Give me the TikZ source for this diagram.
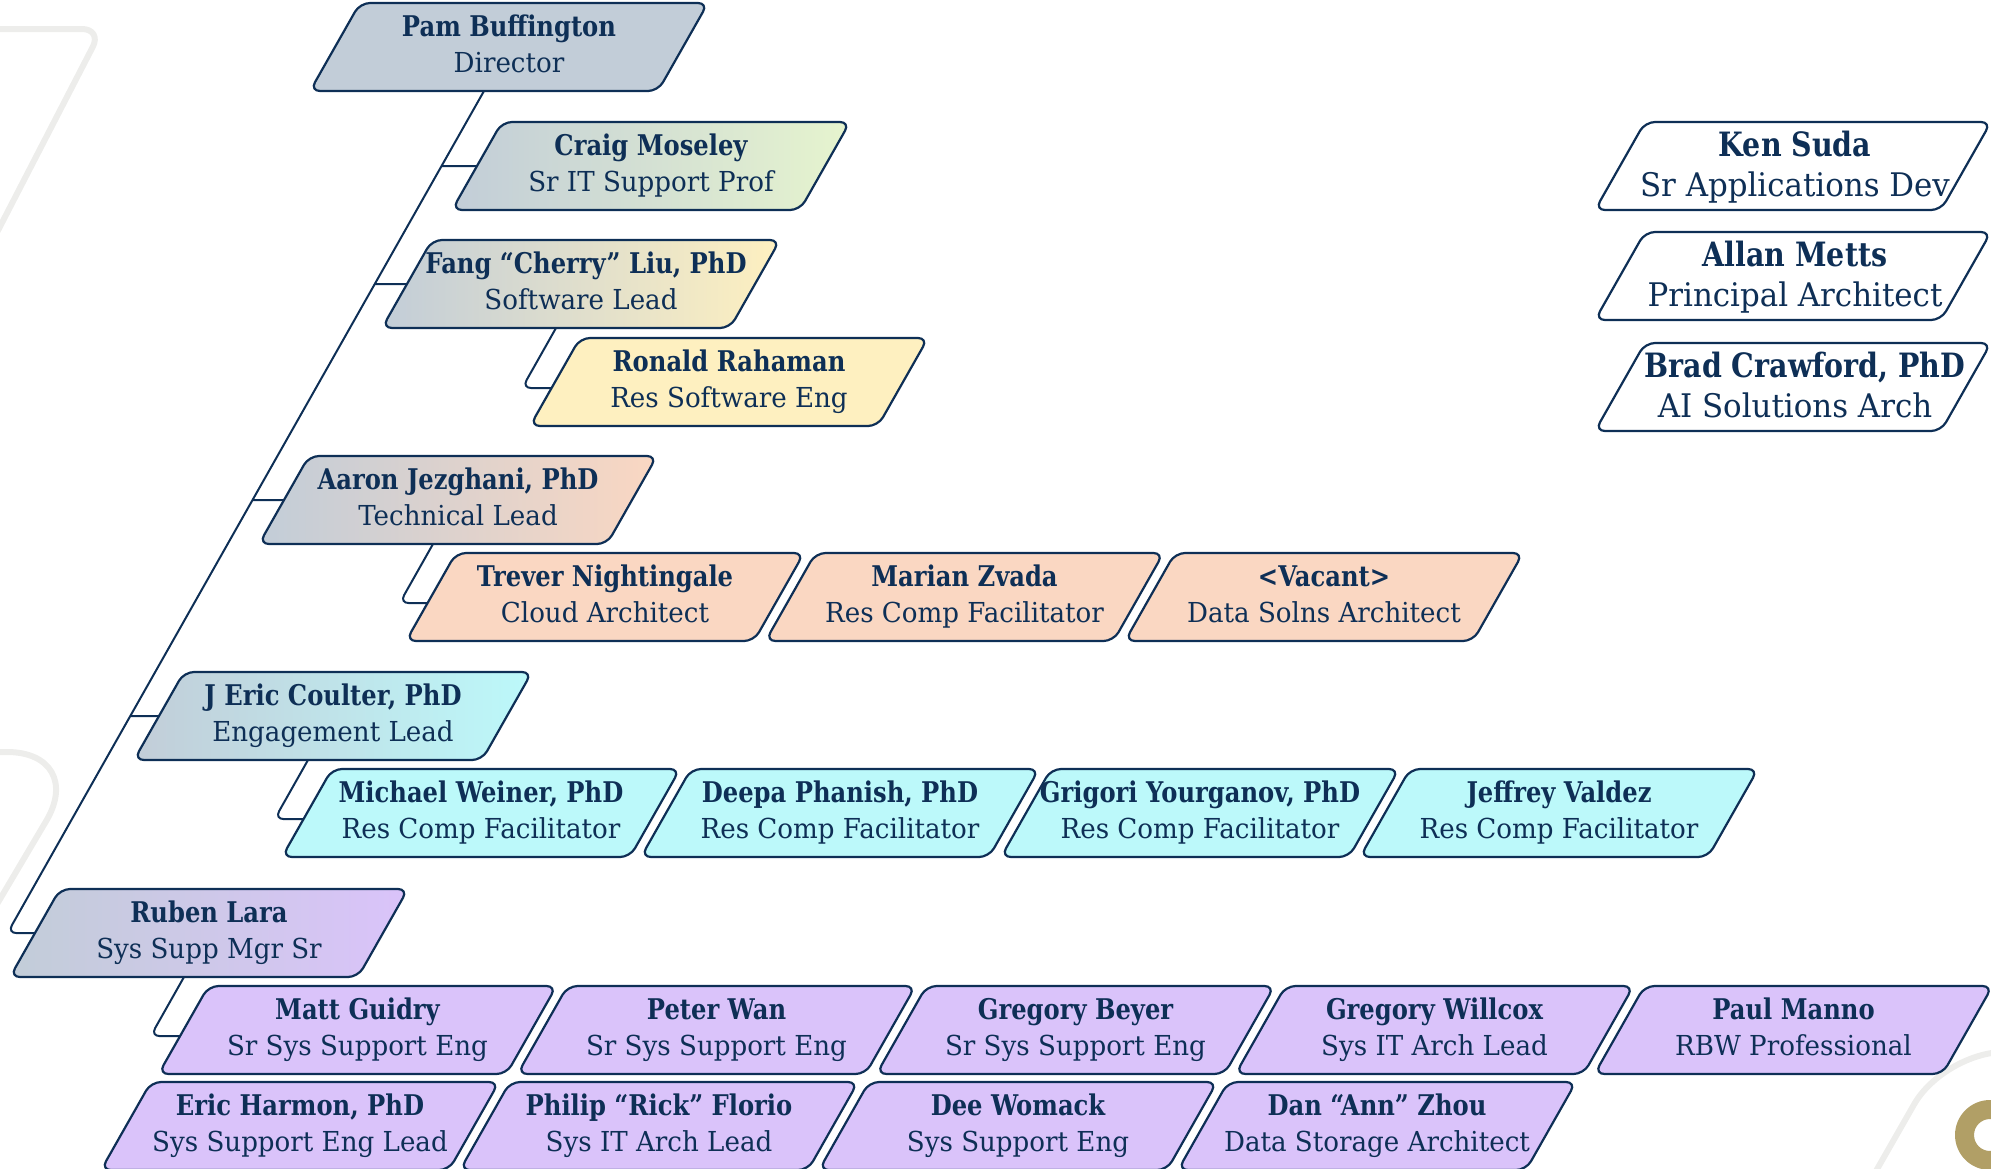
\documentclass[tikz,border=0pt]{standalone}
\usepackage{fontspec}
\setmainfont{DejaVu Serif}[UprightFeatures={FakeStretch=0.95},BoldFeatures={FakeStretch=0.85}]
\usetikzlibrary{calc}
\definecolor{navy}{HTML}{0E2F56}
\definecolor{slate}{HTML}{C2CDD8}
\definecolor{mint}{HTML}{E6F4CE}
\definecolor{cream}{HTML}{FEF0C0}
\definecolor{peach}{HTML}{FAD7C2}
\definecolor{aqua}{HTML}{BCF9FA}
\definecolor{lilac}{HTML}{DAC3FA}
\definecolor{gold}{HTML}{B19F66}
\definecolor{ghost}{HTML}{EDEDEB}
\pgfdeclarelayer{bg}
\pgfsetlayers{bg,main}
\tikzset{
 boxline/.style={draw=navy, line width=2.2pt, rounded corners=10pt},
 boxtext/.style={text=navy, align=center, inner sep=0pt, font=\fontsize{27.5}{36}\selectfont},
 bigtext/.style={text=navy, align=center, inner sep=0pt, xshift=2pt, yshift=-2.5pt, font=\fontsize{32.5}{40}\selectfont},
 conn/.style={draw=navy, line width=2pt, rounded corners=9pt},
 decor/.style={draw=ghost, line width=6pt, line cap=round},
}
% #1 name, #2 cx, #3 cy, #4 width, #5 fill, #6 text style, #7 name text, #8 title text, #9 name size
\newcommand\orgbox[9]{%
 \path[boxline,#5] ({#2-#4/2+25},{#3-44}) -- ({#2+#4/2+25},{#3-44}) -- ({#2+#4/2-25},{#3+44}) -- ({#2-#4/2-25},{#3+44}) -- cycle;
 \node[#6] (#1) at (#2,#3) {\strut{\fontsize{#9}{36}\selectfont\bfseries #7}\\\strut #8};
 \coordinate (#1-b) at ({#2-25},{#3+44});
 \coordinate (#1-bs) at ({#2-25-56.6},{#3+144});
 \coordinate (#1-l) at ({#2-#4/2},#3);
 \coordinate (#1-lx) at ({#2-#4/2-100},#3);
 \coordinate (#1-m) at ({#2-#4/2-3.4},{#3+6});
 \coordinate (#1-mx) at ({#2-#4/2-103.4},{#3+6});
}
\begin{document}
\begin{tikzpicture}[x=1pt,y=-1pt]
\useasboundingbox (0,0) rectangle (1991,1168);
\clip (0,0) rectangle (1991,1168);
% background decorations
\begin{pgfonlayer}{bg}
\draw[decor, rounded corners=20pt] (-10,29) -- (102,29) -- (-10,246);
\draw[decor, rounded corners=80pt] (-10,752) -- (87,752) -- (-10,916);
\draw[decor, rounded corners=60pt] (1868,1185) -- (1944,1052) -- (2010,1052);
\fill[gold, even odd rule] (1990,1135) circle (35pt) (1990,1135) circle (16pt);
\end{pgfonlayer}

% boxes
\orgbox{pam}{509}{47}{348}{fill=slate}{boxtext}{Pam Buffington}{Director}{28.5}
\orgbox{craig}{651}{166}{348}{left color=slate,right color=mint}{boxtext}{Craig Moseley}{Sr IT Support Prof}{28.5}
\orgbox{fang}{581}{284}{348}{left color=slate,right color=cream}{boxtext}{\hspace*{10pt}Fang “Cherry” Liu, PhD}{Software Lead}{28.5}
\orgbox{ronald}{729}{382}{348}{fill=cream}{boxtext}{Ronald Rahaman}{Res Software Eng}{28.5}
\orgbox{aaron}{458}{500}{348}{left color=slate,right color=peach}{boxtext}{Aaron Jezghani, PhD}{Technical Lead}{28.5}
\orgbox{trever}{605}{597}{348}{fill=peach}{boxtext}{Trever Nightingale}{Cloud Architect}{28.5}
\orgbox{marian}{964.5}{597}{348}{fill=peach}{boxtext}{Marian Zvada}{Res Comp Facilitator}{28.5}
\orgbox{vacant}{1324}{597}{348}{fill=peach}{boxtext}{\textless Vacant\textgreater}{Data Solns Architect}{28.5}
\orgbox{jeric}{333}{716}{348}{left color=slate,right color=aqua}{boxtext}{J Eric Coulter, PhD}{Engagement Lead}{28.5}
\orgbox{michael}{481}{813}{348}{fill=aqua}{boxtext}{Michael Weiner, PhD}{Res Comp Facilitator}{28.5}
\orgbox{deepa}{840}{813}{348}{fill=aqua}{boxtext}{Deepa Phanish, PhD}{Res Comp Facilitator}{28.5}
\orgbox{grigori}{1200}{813}{348}{fill=aqua}{boxtext}{Grigori Yourganov, PhD}{Res Comp Facilitator}{28.5}
\orgbox{jeffrey}{1559}{813}{348}{fill=aqua}{boxtext}{Jeffrey Valdez}{Res Comp Facilitator}{28.5}
\orgbox{ruben}{209}{933}{348}{left color=slate,right color=lilac}{boxtext}{Ruben Lara}{Sys Supp Mgr Sr}{28.5}
\orgbox{matt}{357.5}{1030}{348}{fill=lilac}{boxtext}{Matt Guidry}{Sr Sys Support Eng}{28.5}
\orgbox{peter}{716.5}{1030}{348}{fill=lilac}{boxtext}{Peter Wan}{Sr Sys Support Eng}{28.5}
\orgbox{beyer}{1075.5}{1030}{348}{fill=lilac}{boxtext}{Gregory Beyer}{Sr Sys Support Eng}{28.5}
\orgbox{willcox}{1434.5}{1030}{348}{fill=lilac}{boxtext}{Gregory Willcox}{Sys IT Arch Lead}{28.5}
\orgbox{paul}{1793.5}{1030}{348}{fill=lilac}{boxtext}{Paul Manno}{RBW Professional}{28.5}
\orgbox{eric}{300}{1126}{348}{fill=lilac}{boxtext}{Eric Harmon, PhD}{Sys Support Eng Lead}{28.5}
\orgbox{philip}{659}{1126}{348}{fill=lilac}{boxtext}{Philip “Rick” Florio}{Sys IT Arch Lead}{28.5}
\orgbox{dee}{1018}{1126}{348}{fill=lilac}{boxtext}{Dee Womack}{Sys Support Eng}{28.5}
\orgbox{dan}{1377}{1126}{348}{fill=lilac}{boxtext}{Dan “Ann” Zhou}{Data Storage Architect}{28.5}
\orgbox{ken}{1793}{166}{346}{fill=white}{bigtext}{Ken Suda}{Sr Applications Dev}{33.5}
\orgbox{allan}{1793}{276}{346}{fill=white}{bigtext}{Allan Metts}{Principal Architect}{33.5}
\orgbox{brad}{1793}{387}{346}{fill=white}{bigtext}{\hspace*{20pt}Brad Crawford, PhD}{AI Solutions Arch}{33.5}

% connectors
\begin{pgfonlayer}{bg}
\draw[conn] (pam-b) -- (intersection of pam-b--pam-bs and ruben-l--ruben-lx) -- (ruben-l);
\draw[conn] (intersection of pam-b--pam-bs and craig-l--craig-lx) -- (craig-l);
\draw[conn] (intersection of pam-b--pam-bs and fang-l--fang-lx) -- (fang-l);
\draw[conn] (intersection of pam-b--pam-bs and aaron-l--aaron-lx) -- (aaron-l);
\draw[conn] (intersection of pam-b--pam-bs and jeric-l--jeric-lx) -- (jeric-l);
\draw[conn] (fang-b) -- (intersection of fang-b--fang-bs and ronald-m--ronald-mx) -- (ronald-m);
\draw[conn] (aaron-b) -- (intersection of aaron-b--aaron-bs and trever-m--trever-mx) -- (trever-m);
\draw[conn] (jeric-b) -- (intersection of jeric-b--jeric-bs and michael-m--michael-mx) -- (michael-m);
\draw[conn] (ruben-b) -- (intersection of ruben-b--ruben-bs and matt-m--matt-mx) -- (matt-m);
\end{pgfonlayer}
\end{tikzpicture}
\end{document}
